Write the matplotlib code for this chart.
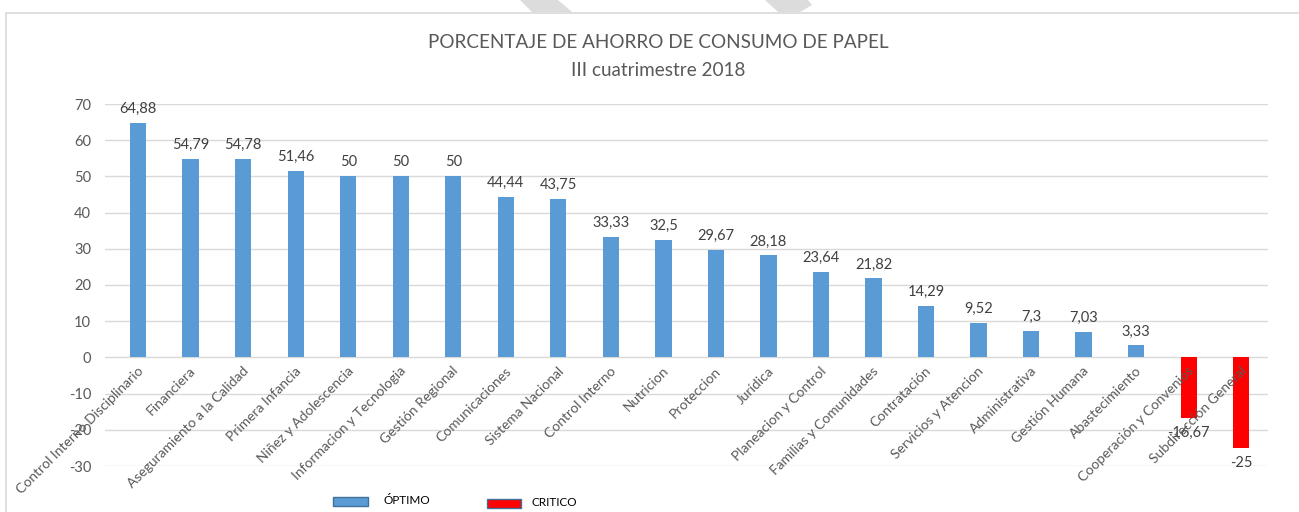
import matplotlib
matplotlib.use("Agg")
import matplotlib.pyplot as plt
from matplotlib.patches import Rectangle, Polygon

plt.rcParams['font.family'] = ['Lato', 'DejaVu Sans']

# Paper saving by area, third four-month period 2018
areas = ["Control Interno Disciplinario", "Financiera", "Aseguramiento a la Calidad",
         "Primera Infancia", "Niñez y Adolescencia", "Informacion y Tecnologia",
         "Gestión Regional", "Comunicaciones", "Sistema Nacional", "Control Interno",
         "Nutricion", "Proteccion", "Jurídica", "Planeacion y Control",
         "Familias y Comunidades", "Contratación", "Servicios y Atencion",
         "Administrativa", "Gestión Humana", "Abastecimiento",
         "Cooperación y Convenios", "Subdirección General"]
ahorro = [64.88, 54.79, 54.78, 51.46, 50, 50, 50, 44.44, 43.75, 33.33,
          32.5, 29.67, 28.18, 23.64, 21.82, 14.29, 9.52, 7.3, 7.03, 3.33,
          -16.67, -25]
yticks = [-30, -20, -10, 0, 10, 20, 30, 40, 50, 60, 70]

blue = "#5B9BD5"
red = "#FF0000"
grey_txt = "#595959"

fig = plt.figure(figsize=(12.99, 5.12), dpi=100)
W, H = 1299, 512

def fx(px):
    return px / W

def fy(py):
    return 1 - py / H

# outer chart frame and the grey stripes above it
fig.patches.append(Rectangle((fx(6), -0.1), 1.2, fy(12.5) + 0.1, transform=fig.transFigure,
                             fill=False, edgecolor="#D9D9D9", linewidth=1.2))
fig.patches.append(Polygon([(fx(520), 1), (fx(558), 1), (fx(572), fy(12)), (fx(532), fy(12))],
                           closed=True, transform=fig.transFigure, facecolor="#DCDCDC", edgecolor="none"))
fig.patches.append(Polygon([(fx(765), 1), (fx(808), 1), (fx(812), fy(5)), (fx(800), fy(12)), (fx(778), fy(12))],
                           closed=True, transform=fig.transFigure, facecolor="#DCDCDC", edgecolor="none"))

ax = fig.add_axes([fx(105), fy(466), fx(1268) - fx(105), fy(104) - fy(466)])
x = list(range(len(areas)))
colors = [blue if v >= 0 else red for v in ahorro]
ax.bar(x, ahorro, width=0.31, color=colors, zorder=3)

ax.set_xlim(-0.63, len(areas) - 0.49)
ax.set_ylim(-30, 70)
ax.set_yticks(yticks)
ax.set_yticklabels([str(t) for t in yticks], fontsize=10.5, color=grey_txt)
ax.tick_params(axis="y", length=0, pad=10)
ax.set_xticks([])
ax.grid(axis="y", color="#D9D9D9", linewidth=1, zorder=0)
for s in ax.spines.values():
    s.set_visible(False)

# value labels
for i, v in enumerate(ahorro):
    txt = f"{v:g}".replace(".", ",")
    if v >= 0:
        ax.annotate(txt, (i, v), xytext=(0, 5), textcoords="offset points",
                    ha="center", va="bottom", fontsize=10.5, color="#404040")
    else:
        ax.annotate(txt, (i, v), xytext=(0, -6), textcoords="offset points",
                    ha="center", va="top", fontsize=10.5, color="#404040")

# category labels rotated under the zero line
for i, name in enumerate(areas):
    ax.text(i + 0.06, -3.2, name, rotation=45, rotation_mode="anchor",
            ha="right", va="center", fontsize=10, color=grey_txt, zorder=4)

fig.text(fx(658), fy(42), "PORCENTAJE DE AHORRO DE CONSUMO DE PAPEL",
         ha="center", va="center", fontsize=13.6, color=grey_txt)
fig.text(fx(658), fy(70), "III cuatrimestre 2018",
         ha="center", va="center", fontsize=13.6, color=grey_txt)

# legend
fig.patches.append(Rectangle((fx(333), fy(506)), fx(35), fy(497) - fy(506), transform=fig.transFigure,
                             facecolor=blue, edgecolor="#41719C", linewidth=1))
fig.text(fx(383), fy(500), "ÓPTIMO", ha="left", va="center", fontsize=8.5, color="black")
fig.patches.append(Rectangle((fx(487), fy(508)), fx(34), fy(499) - fy(508), transform=fig.transFigure,
                             facecolor=red, edgecolor="#41719C", linewidth=1))
fig.text(fx(532), fy(503), "CRITICO", ha="left", va="center", fontsize=8.5, color="black")

fig.savefig("out.png", dpi=100, facecolor="white")
